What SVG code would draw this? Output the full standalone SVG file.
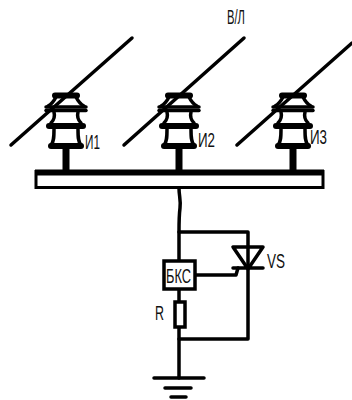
<svg xmlns="http://www.w3.org/2000/svg" width="352" height="400" viewBox="0 0 352 400">
<style>
.w{fill:none;stroke:#000;stroke-width:3.500;stroke-linecap:round;stroke-linejoin:round}
.s{fill:none;stroke:#000;stroke-width:6;stroke-linecap:round}
.t{fill:#111;font-family:"Liberation Sans",Arial,sans-serif;font-size:20px}
</style>
<defs>
<g id="ins">
<path d="M0 146V170" fill="none" stroke="#000" stroke-width="7"/>
<path d="M-11 95.500H11" class="s"/>
<path d="M-10 97C-12 101 -14 104 -18 106M10 97C12 101 14 104 18 106" class="w"/>
<path d="M-20 107H20" class="w" stroke-width="3"/>
<path d="M-20 110.500H20" class="w" stroke-width="3"/>
<path d="M-12 112C-11 116 -12 120 -15 123M12 112C11 116 12 120 15 123" class="w"/>
<path d="M-17 126H17" class="s"/>
<path d="M-12 129C-12 136 -12 142 -15 145M12 129C12 136 12 142 15 145" class="w"/>
<path d="M-15 146H15" class="s"/>
</g>
</defs>
<g id="connectors" class="w">
<path d="M11 145L132 38"/>
<path d="M124 145L244 38"/>
<path d="M237 145L352 43"/>
<path d="M179 188C179 196 181 200 180 208C179 216 179 218 179 232V261"/>
<path d="M179 232H248V339H179"/>
<path d="M179 289V302M179 327V378"/>
<path d="M195 275H236L238 268"/>
<path d="M233 247H263L248 269ZM233 268H263"/>
<path d="M154 378H204M165 388H191M171 397H186"/>
</g>
<g id="insulator1"><use href="#ins" x="66"/><text class="t" x="85" y="149" textLength="15" lengthAdjust="spacingAndGlyphs">И1</text></g>
<g id="insulator2"><use href="#ins" x="179"/><text class="t" x="198" y="147" textLength="17" lengthAdjust="spacingAndGlyphs">И2</text></g>
<g id="insulator3"><use href="#ins" x="293"/><text class="t" x="310" y="144" textLength="17" lengthAdjust="spacingAndGlyphs">И3</text></g>
<g id="bus"><rect x="36" y="171.500" width="287" height="16" fill="#fff" stroke="#000" stroke-width="3"/><rect x="35" y="169.500" width="289" height="6" fill="#000"/></g>
<g id="overhead-line"><text class="t" x="227" y="24" textLength="18" lengthAdjust="spacingAndGlyphs">В/Л</text></g>
<g id="bks"><rect x="164" y="261" width="31" height="28" fill="#fff" stroke="#000" stroke-width="3.500"/><text class="t" x="166" y="283" textLength="25" lengthAdjust="spacingAndGlyphs">БКС</text></g>
<g id="resistor"><rect x="175" y="302" width="10" height="25" fill="#fff" stroke="#000" stroke-width="3.500"/><text class="t" x="155" y="320" textLength="9" lengthAdjust="spacingAndGlyphs">R</text></g>
<g id="thyristor"><text class="t" x="267" y="268" textLength="18" lengthAdjust="spacingAndGlyphs">VS</text></g>
</svg>
